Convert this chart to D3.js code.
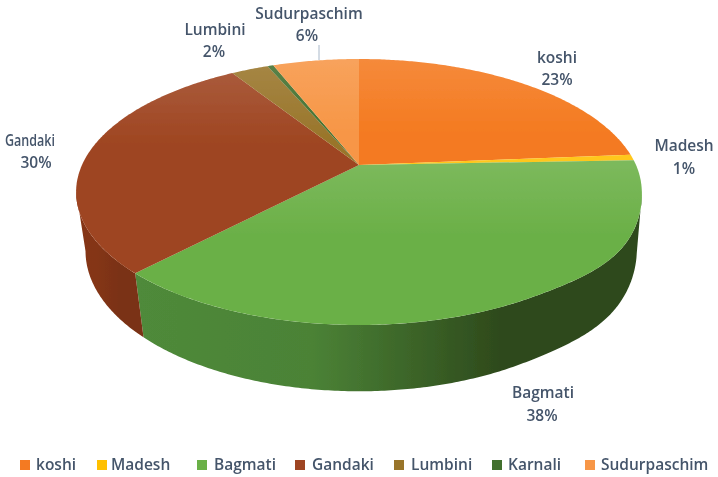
<!DOCTYPE html>
<html><head><meta charset="utf-8">
<script src="https://cdn.jsdelivr.net/npm/d3@7"></script>
<style>html,body{margin:0;padding:0;background:#fff}svg{display:block}</style>
</head><body><svg id="c" width="718" height="477"></svg>
<script>
const categories=["koshi","Madesh","Bagmati","Gandaki","Lumbini","Karnali","Sudurpaschim"];
const values=[23.7,0.7,37.7,28.9,2.6,0.4,6.0];
const percentLabels=["23%","1%","38%","30%","2%","0%","6%"];
const colors=["#F47A20","#FFC000","#6BB047","#9E4420","#99752A","#43702E","#F79646"];
const sideLeft=["#B85A18","#BF9000","#4F8A3A","#853515","#735820","#32541F","#B96F38"];
const sideRight=["#B85A18","#BF9000","#2E4A1C","#7A3212","#735820","#32541F","#B96F38"];
const labelPos=[[557,58],[684,146],[543,393],[30,141],[215,30],null,[309,14]];
const pctPos=[[557,80],[684,169],[542,416],[36,163],[214,52],null,[307,36]];
const legendSwatchX=[20,97,197,295,394,492,585];
const legendTextX=[36,111,214,312,411,508,601];

const svg=d3.select("#c");
const defs=svg.append("defs");
const blur=defs.append("filter").attr("id","b").attr("x","-5%").attr("y","-5%").attr("width","110%").attr("height","110%");
blur.append("feGaussianBlur").attr("stdDeviation",0.6);
const cx=359,cy=165,a=277,b=127.5,k=0.203,m=0.033,D=60.3;
const bump=t=>{const u=t-Math.PI/2;if(u<=0||u>=Math.PI/3)return 0;const v=Math.sin(3*u);return 7*v*v};
const top3=t=>{const c=Math.cos(t),s=Math.sin(t),w=1/(1+k*c);return [cx+a*s*w,cy-b*c*w+bump(t)]};
const bot3=t=>{const c=Math.cos(t),s=Math.sin(t),w=1/(1+k*c+m);return [cx+a*s*w+(s>0?5*Math.pow(s,8):0),cy+(D-b*c)*w+bump(t)]};
const line=d3.line();
const pie=d3.pie().sort(null).value(d=>d);
const arcs=pie(values);
const sweep=(f,t0,t1)=>{const n=Math.max(2,Math.ceil((t1-t0)/0.01));return d3.range(n+1).map(i=>f(t0+(t1-t0)*i/n))};
const g=svg.append("g").attr("filter","url(#b)");
const visible0=Math.PI/2+0.2,visible1=Math.PI*1.5-0.2;

arcs.forEach((d,i)=>{
  const t0=Math.max(d.startAngle,visible0),t1=Math.min(d.endAngle,visible1);
  if(t1<=t0) return;
  const [x0]=top3(t0),[x1]=top3(t1);
  const id="s"+i;
  const mix=d3.interpolateRgb(sideLeft[i],sideRight[i]);
  const gr=defs.append("linearGradient").attr("id",id).attr("gradientUnits","userSpaceOnUse").attr("x1",x1).attr("x2",x0).attr("y1",0).attr("y2",0);
  gr.append("stop").attr("offset",0).attr("stop-color",sideLeft[i]);
  gr.append("stop").attr("offset",0.35).attr("stop-color",mix(0.12));
  gr.append("stop").attr("offset",0.72).attr("stop-color",mix(1));
  gr.append("stop").attr("offset",1).attr("stop-color",sideRight[i]);
  g.append("path").attr("d",line(sweep(top3,t0,t1).concat(sweep(bot3,t0,t1).reverse()))+"Z").attr("fill",`url(#${id})`);
});
arcs.forEach((d,i)=>{
  const p=[[cx,cy]].concat(sweep(top3,d.startAngle,d.endAngle));
  const y0=d3.min(p,q=>q[1]);
  const id="sh"+i;
  const sheen=defs.append("linearGradient").attr("id",id).attr("gradientUnits","userSpaceOnUse").attr("x1",0).attr("x2",0).attr("y1",y0).attr("y2",y0+75);
  sheen.append("stop").attr("offset",0).attr("stop-color","#fff").attr("stop-opacity",0.12);
  sheen.append("stop").attr("offset",1).attr("stop-color","#fff").attr("stop-opacity",0);
  g.append("path").attr("d",line(p)+"Z").attr("fill",colors[i]);
  g.append("path").attr("d",line(p)+"Z").attr("fill",`url(#${id})`);
});
const font="'Open Sans',sans-serif",ink="#44546A";
const t=svg.append("g").attr("filter","url(#b)").attr("font-family",font).attr("fill",ink).attr("font-size",15.5).attr("font-weight",600);
g.append("line").attr("x1",319).attr("x2",319).attr("y1",45).attr("y2",60).attr("stroke","#A9B8C9").attr("stroke-width",1);
categories.forEach((n,i)=>{
  if(!labelPos[i]) return;
  const lab=t.append("text").attr("x",labelPos[i][0]).attr("y",labelPos[i][1]+5).attr("text-anchor","middle").text(n);
  if(n==="Gandaki") lab.attr("textLength",50).attr("lengthAdjust","spacingAndGlyphs");
  t.append("text").attr("x",pctPos[i][0]).attr("y",pctPos[i][1]+5).attr("text-anchor","middle").text(percentLabels[i]);
});
categories.forEach((n,i)=>{
  t.append("rect").attr("x",legendSwatchX[i]).attr("y",460).attr("width",10).attr("height",10).attr("fill",colors[i]);
  t.append("text").attr("x",legendTextX[i]).attr("y",470).text(n);
});
</script></body></html>
